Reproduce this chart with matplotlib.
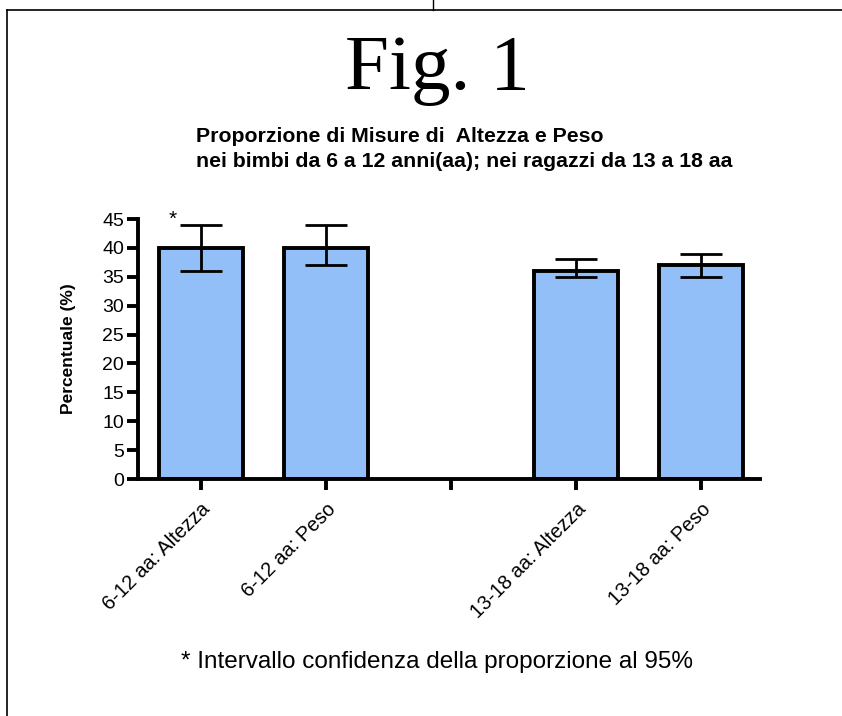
import numpy as np
import matplotlib
matplotlib.use("Agg")
import matplotlib.pyplot as plt
from matplotlib import font_manager
from matplotlib.lines import Line2D

categories = ["6-12 aa: Altezza", "6-12 aa: Peso", "", "13-18 aa: Altezza", "13-18 aa: Peso"]
values = [40, 40, np.nan, 36, 37]
err_low = [36, 37, np.nan, 35, 35]
err_high = [44, 44, np.nan, 38, 39]

names = {f.name for f in font_manager.fontManager.ttflist}
has_narrow = "Liberation Sans Narrow" in names
narrow = "Liberation Sans Narrow" if has_narrow else "Liberation Sans"

plt.rcParams["font.family"] = ["Liberation Sans", "DejaVu Sans"]

fig = plt.figure(figsize=(8.42, 7.16), dpi=100)
ax = fig.add_axes([138 / 842, 1 - 479 / 716, (760 - 138) / 842, (479 - 219) / 716])

x = np.arange(len(categories))
vals = np.array(values, dtype=float)
lo = vals - np.array(err_low, dtype=float)
hi = np.array(err_high, dtype=float) - vals
mask = ~np.isnan(vals)

ax.bar(x[mask], vals[mask], width=0.67, color="#92bff8", edgecolor="black",
       linewidth=2.8, zorder=2)
ax.errorbar(x[mask], vals[mask], yerr=[lo[mask], hi[mask]], fmt="none",
            ecolor="black", elinewidth=2, capsize=15, capthick=2, zorder=3)

ax.set_xlim(-0.5, 4.47)
ax.set_ylim(0, 45)
ax.set_yticks(range(0, 46, 5))
ax.set_xticks(x)
ax.set_xticklabels(categories, rotation=45, ha="right", rotation_mode="anchor",
                   fontsize=14.3 if not has_narrow else 16, family=narrow)
for lab in ax.get_yticklabels():
    lab.set_family(narrow)
    lab.set_fontsize(14)
ax.tick_params(axis="both", width=2.8, length=8, direction="out")
ax.tick_params(axis="x", pad=7)
ax.tick_params(axis="y", pad=2)
for s in ["top", "right"]:
    ax.spines[s].set_visible(False)
for s in ["left", "bottom"]:
    ax.spines[s].set_linewidth(2.8)
ax.set_ylabel("Percentuale (%)", fontsize=12.5, fontweight="bold", labelpad=19)

ax.text(-0.22, 45.0, "*", fontsize=15, ha="center", va="center", clip_on=False)

fig.text(437 / 842, 1 - 89 / 716, "Fig. 1", family=["Liberation Serif", "DejaVu Serif"],
         fontsize=57, ha="center", va="baseline")
fig.text(196 / 842, 1 - 149 / 716,
         "Proporzione di Misure di  Altezza e Peso\nnei bimbi da 6 a 12 anni(aa); nei ragazzi da 13 a 18 aa",
         fontsize=15.3, ha="left", va="center", linespacing=1.45, fontweight="bold")
fig.text(437 / 842, 1 - 662 / 716, "* Intervallo confidenza della proporzione al 95%",
         family=narrow, fontsize=22 if has_narrow else 17.5, ha="center", va="center")

# page frame lines
fig.add_artist(Line2D([7 / 842, 1], [1 - 10 / 716] * 2, color="black", lw=1.2))
fig.add_artist(Line2D([7 / 842] * 2, [0, 1 - 10 / 716], color="black", lw=1.2))
fig.add_artist(Line2D([433 / 842] * 2, [1 - 10 / 716, 1], color="black", lw=1.0))

fig.savefig("out.png", dpi=100)
